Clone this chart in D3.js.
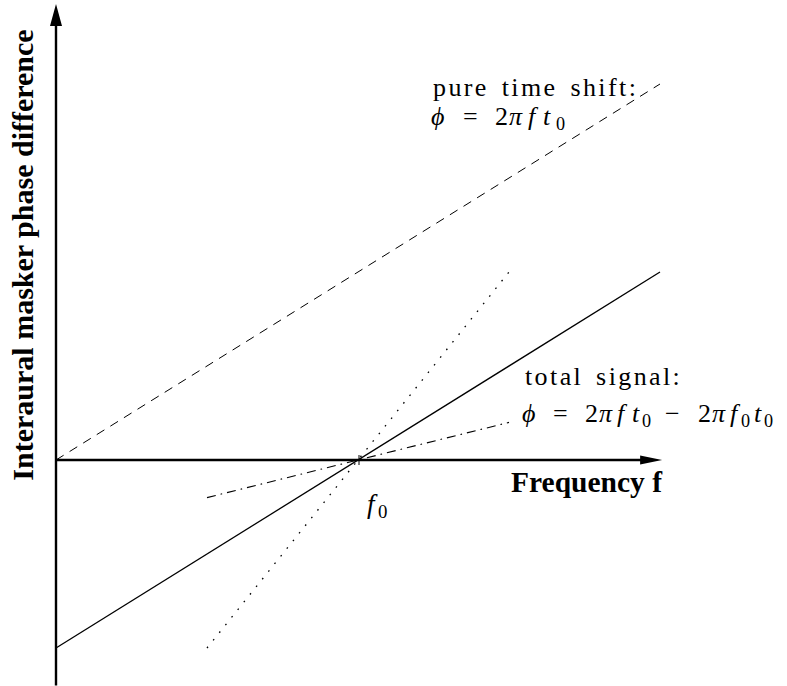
<!DOCTYPE html>
<html>
<head>
<meta charset="utf-8">
<script src="https://cdn.jsdelivr.net/npm/d3@7"></script>
<style>
  html, body { margin: 0; padding: 0; background: #fff; }
  svg { display: block; }
</style>
</head>
<body>
<svg id="chart" width="787" height="686"></svg>
<script>
// Phase of the interaural masker difference versus frequency (units: f0 = 1)
const f0 = 1;
const xAxisLabel = "Frequency f";
const yAxisLabel = "Interaural masker phase difference";

// Each line: frequency endpoints and phase values at those endpoints
const timeShiftFreq = [0, 2];
const timeShiftPhase = [0, 2];
const totalSignalFreq = [0, 2];
const totalSignalPhase = [-1, 1];
const steepFreq = [0.5, 1.5];
const steepPhase = [-1, 1];
const shallowFreq = [0.5, 1.5];
const shallowPhase = [-0.2, 0.2];

// Axis extents in data units
const xAxisExtent = [0, 2.007];
const yAxisExtent = [-1.2, 2.425];

const svg = d3.select("#chart");
const x = d3.scaleLinear().domain([0, 2]).range([56, 660]);
const y = d3.scaleLinear().domain([-1, 2]).range([648, 84]);

const serif = "'Liberation Serif', 'Times New Roman', serif";

// Lines
const line = d3.line().x(d => x(d[0])).y(d => y(d[1]));
const series = [
  { f: timeShiftFreq, p: timeShiftPhase, dash: "9,7", w: 1 },
  { f: totalSignalFreq, p: totalSignalPhase, dash: null, w: 1.3 },
  { f: steepFreq, p: steepPhase, dash: "1.6,8.2", w: 1.3 },
  { f: shallowFreq, p: shallowPhase, dash: "9,5,1.6,5", w: 1.1 }
];
svg.append("g").selectAll("path").data(series).join("path")
  .attr("d", s => line(s.f.map((fv, i) => [fv, s.p[i]])))
  .attr("fill", "none")
  .attr("stroke", "#000")
  .attr("stroke-width", s => s.w)
  .attr("stroke-dasharray", s => s.dash);

// Axes with arrowheads
const axes = svg.append("g");
const x0 = x(0), y0 = y(0);
const xEnd = x(xAxisExtent[1]);
const yTop = y(yAxisExtent[1]);
const yBottom = y(yAxisExtent[0]);
const headLen = 22, headHalf = 5.5;

axes.append("line")
  .attr("x1", x0).attr("y1", y0).attr("x2", xEnd - headLen + 2).attr("y2", y0)
  .attr("stroke", "#000").attr("stroke-width", 2.4);
axes.append("path")
  .attr("d", `M${xEnd},${y0} L${xEnd - headLen},${y0 - headHalf + 1} L${xEnd - headLen},${y0 + headHalf - 1} Z`)
  .attr("fill", "#000");

axes.append("line")
  .attr("x1", x0).attr("y1", yBottom).attr("x2", x0).attr("y2", yTop + headLen - 2)
  .attr("stroke", "#000").attr("stroke-width", 2.4);
axes.append("path")
  .attr("d", `M${x0},${yTop} L${x0 - headHalf - 0.5},${yTop + headLen} L${x0 + headHalf + 0.5},${yTop + headLen} Z`)
  .attr("fill", "#000");

// Tick at f0
axes.append("line")
  .attr("x1", x(f0) + 1).attr("x2", x(f0) + 1)
  .attr("y1", y0 - 5).attr("y2", y0 + 5)
  .attr("stroke", "#000").attr("stroke-width", 1);

// Axis titles
svg.append("text")
  .attr("x", 511).attr("y", 492)
  .attr("font-family", serif).attr("font-weight", "bold").attr("font-size", 29)
  .attr("textLength", 151).attr("lengthAdjust", "spacingAndGlyphs")
  .text(xAxisLabel);

svg.append("text")
  .attr("transform", "translate(33,255) rotate(-90)")
  .attr("text-anchor", "middle")
  .attr("font-family", serif).attr("font-weight", "bold").attr("font-size", 30)
  .text(yAxisLabel);

// Formula text: pieces flow in one line, each nudged so it starts at its own x
function formula(xp, yp, size, pieces) {
  const t = svg.append("text")
    .attr("x", xp).attr("y", yp)
    .attr("font-family", serif).attr("font-size", size);
  let cursor = xp, raised = 0;
  pieces.forEach(p => {
    const drop = p.sub ? 5 : 0;
    const ts = t.append("tspan")
      .attr("dx", (p.x - cursor).toFixed(2))
      .attr("dy", drop - raised)
      .attr("font-style", p.i ? "italic" : null)
      .attr("font-size", p.sub ? size * 0.7 : null)
      .text(p.t);
    raised = drop;
    cursor = p.x + ts.node().getComputedTextLength();
  });
}

// f0 label
formula(367, 513, 27, [
  { t: "f", i: true, x: 367 },
  { t: "0", sub: true, x: 378 }
]);

// Annotations
function caption(xp, yp, text) {
  svg.append("text")
    .attr("x", xp).attr("y", yp)
    .attr("font-family", serif).attr("font-size", 26)
    .attr("letter-spacing", 2.4)
    .attr("word-spacing", 4)
    .text(text);
}

caption(433, 96, "pure time shift:");
formula(431, 125, 26, [
  { t: "ϕ", i: true, x: 431 },
  { t: "=", x: 463 },
  { t: "2", x: 495 },
  { t: "π", i: true, x: 509 },
  { t: "f", i: true, x: 528 },
  { t: "t", i: true, x: 543 },
  { t: "0", sub: true, x: 556 }
]);

caption(525, 385, "total signal:");
formula(522, 422, 26, [
  { t: "ϕ", i: true, x: 522 },
  { t: "=", x: 553 },
  { t: "2", x: 585 },
  { t: "π", i: true, x: 599 },
  { t: "f", i: true, x: 617 },
  { t: "t", i: true, x: 632 },
  { t: "0", sub: true, x: 642 },
  { t: "−", x: 665 },
  { t: "2", x: 698 },
  { t: "π", i: true, x: 712 },
  { t: "f", i: true, x: 730 },
  { t: "0", sub: true, x: 741 },
  { t: "t", i: true, x: 754 },
  { t: "0", sub: true, x: 764 }
]);
</script>
</body>
</html>
